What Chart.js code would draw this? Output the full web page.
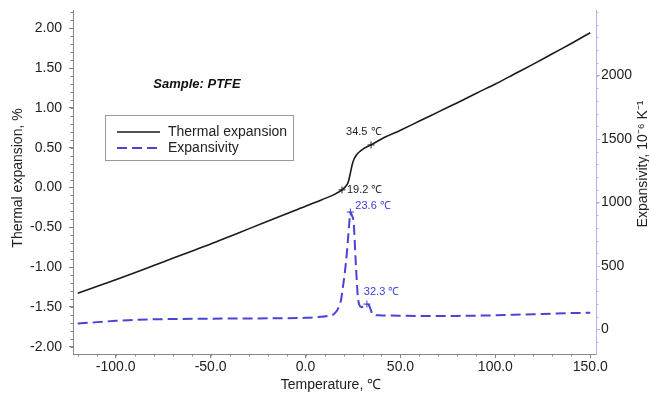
<!DOCTYPE html>
<html><head><meta charset="utf-8">
<script src="https://cdn.jsdelivr.net/npm/chart.js@4/dist/chart.umd.min.js"></script>
<style>html,body{margin:0;padding:0;background:#fff;overflow:hidden}#wrap{width:649px;height:393px}</style>
</head><body><div id="wrap"><canvas id="c" width="649" height="393"></canvas></div>
<script>
// ---- data ----
const tempThermal = [-120,-110,-100,-90,-80,-70,-60,-50,-40,-30,-20,-10,0,5,10,15,19.2,21,22.5,23.5,24.5,25.5,27,29,31,34.5,40,50,60,70,80,90,100,110,120,130,140,150];
const thermalExpansion = [-1.33,-1.245,-1.158,-1.07,-0.98,-0.89,-0.80,-0.71,-0.615,-0.52,-0.425,-0.33,-0.235,-0.19,-0.14,-0.09,-0.03,0.01,0.07,0.17,0.28,0.355,0.415,0.46,0.495,0.535,0.61,0.72,0.835,0.95,1.065,1.185,1.30,1.425,1.55,1.68,1.81,1.945];
const tempExpansivity = [-120,-110,-100,-90,-80,-60,-40,-20,0,8,12,15,17,18.6,20,21.2,22.2,23,23.6,24.4,25.4,26.3,27,27.5,28.3,29.3,30.5,32.3,33.5,34.2,35,35.9,37,40,50,60,70,80,90,100,110,120,130,140,150];
const expansivity = [48,58,68,76,80,84,86,88,92,100,108,122,160,226,370,516,680,833,925,900,833,568,380,265,195,178,180,200,188,160,128,114,112,111,108,106,106,107,109,112,116,120,125,129,132];
const xTickValues = [-100,-50,0,50,100,150];
const yLeftTickValues = [-2,-1.5,-1,-0.5,0,0.5,1,1.5,2];
const yRightTickValues = [0,500,1000,1500,2000];
const annotTemps = [34.5,19.2,23.6,32.3];
const annotValues = [0.535,-0.03,925,200];
const annotSeries = [0,0,1,1];
const seriesNames = ['Thermal expansion','Expansivity'];
const sampleName = 'Sample: PTFE';

const FONT = "'Liberation Sans', Arial, sans-serif";
const BLUE = '#4a44d6';
const toXY = (xs, ys) => xs.map((x,i)=>({x, y: ys[i]}));

const overlay = {
  id:'overlay',
  afterDraw(chart){
    const ctx = chart.ctx, ca = chart.chartArea;
    const sx = chart.scales.x, sl = chart.scales.y, sr = chart.scales.y2;
    ctx.save();
    // minor ticks
    const ln = (a,b,c,d,col)=>{ctx.strokeStyle=col;ctx.lineWidth=1;ctx.beginPath();ctx.moveTo(a,b);ctx.lineTo(c,d);ctx.stroke();};
    for (let v=-120; v<=150; v+=10){ const p=Math.round(sx.getPixelForValue(v))+0.5; ln(p,ca.bottom,p,ca.bottom+2.5,'#888'); }
    for (let k=-20; k<=22; k++){ const p=Math.round(sl.getPixelForValue(k/10))+0.5; ln(ca.left-2.5,p,ca.left,p,'#888'); }
    for (let v=-100; v<=2500; v+=100){ const p=Math.round(sr.getPixelForValue(v))+0.5; ln(ca.right,p,ca.right+2.5,p,'#b4b4ea'); }

    // axis titles
    ctx.fillStyle = '#222';
    ctx.font = '14px ' + FONT;
    ctx.textAlign = 'center'; ctx.textBaseline = 'middle';
    ctx.fillText('Temperature, \u2103', ca.left + 258, 385);
    ctx.save(); ctx.translate(18, ca.top + 168); ctx.rotate(-Math.PI/2);
    ctx.fillText('Thermal expansion, %', 0, 0); ctx.restore();
    ctx.save(); ctx.translate(643, ca.top + 154); ctx.rotate(-Math.PI/2);
    ctx.fillText('Expansivity, 10\u207B\u2076 K\u207B\u00B9', 0, 0); ctx.restore();

    // sample label
    ctx.font = 'italic bold 13px ' + FONT;
    ctx.fillStyle = '#111';
    ctx.fillText(sampleName, ca.left + 124, ca.top + 74);

    // legend
    const lx = ca.left + 32, ly = ca.top + 105;
    ctx.strokeStyle = '#999'; ctx.lineWidth = 1;
    ctx.strokeRect(lx+0.5, ly+0.5, 188, 45);
    ctx.font = '14px ' + FONT; ctx.textAlign='left'; ctx.fillStyle='#222';
    chart.data.datasets.slice(0,2).forEach((ds,i)=>{
      const yy = ly + 17 + i*16;
      ctx.strokeStyle = ds.borderColor; ctx.lineWidth = ds.borderWidth;
      ctx.setLineDash(ds.borderDash || []);
      ctx.beginPath(); ctx.moveTo(lx+12, yy); ctx.lineTo(lx+55, yy); ctx.stroke();
      ctx.setLineDash([]);
      ctx.fillStyle = '#222';
      ctx.fillText(ds.label, lx+63, yy);
    });

    // annotations
    ctx.font = '11px ' + FONT;
    const offs = [[-25,-13],[5,0],[5,-6],[-3,-12]];
    annotTemps.forEach((t,i)=>{
      const sc = annotSeries[i] ? sr : sl;
      const px = sx.getPixelForValue(t), py = sc.getPixelForValue(annotValues[i]);
      ctx.fillStyle = annotSeries[i] ? '#3a3ae0' : '#222';
      ctx.fillText(t.toFixed(1) + ' \u2103', px + offs[i][0], py + offs[i][1]);
    });
    ctx.restore();
  }
};

const fixTicks = vals => scale => { scale.ticks = vals.map(v=>({value:v})); };

new Chart(document.getElementById('c'), {
  type:'line',
  data:{ datasets:[
    { label: seriesNames[0], data: toXY(tempThermal, thermalExpansion), yAxisID:'y', borderColor:'#1a1a1a', borderWidth:1.6, pointRadius:0, cubicInterpolationMode:'monotone', fill:false },
    { label: seriesNames[1], data: toXY(tempExpansivity, expansivity), yAxisID:'y2', borderColor:BLUE, borderWidth:2, borderDash:[10,5], pointRadius:0, cubicInterpolationMode:'monotone', fill:false },
    { label:'marks0', data: annotTemps.map((t,i)=>({x:t,y:annotValues[i]})).filter((p,i)=>annotSeries[i]===0), yAxisID:'y', showLine:false, pointStyle:'cross', pointRadius:3.5, borderColor:'#222', borderWidth:1 },
    { label:'marks1', data: annotTemps.map((t,i)=>({x:t,y:annotValues[i]})).filter((p,i)=>annotSeries[i]===1), yAxisID:'y2', showLine:false, pointStyle:'cross', pointRadius:3.5, borderColor:'#3a3ae0', borderWidth:1 }
  ]},
  options:{
    responsive:false, animation:false, devicePixelRatio:1,
    layout:{ padding:{ top:10, left:0, right:0, bottom:0 } },
    plugins:{ legend:{display:false}, tooltip:{enabled:false} },
    scales:{
      x:{ type:'linear', position:'bottom', min:-122.5, max:153,
          afterBuildTicks: fixTicks(xTickValues),
          afterFit: s=>{ s.height = 39; s.paddingLeft = 0; s.paddingRight = 0; },
          grid:{ drawOnChartArea:false, tickLength:4, color:'#888' },
          border:{ color:'#888' },
          ticks:{ autoSkip:false, maxRotation:0, padding:1, color:'#222', font:{family:FONT,size:14}, callback:v=>v.toFixed(1) } },
      y:{ type:'linear', position:'left', min:-2.092, max:2.23,
          afterBuildTicks: fixTicks(yLeftTickValues),
          afterFit: s=>{ s.width = 73; s.paddingTop = 0; s.paddingBottom = 0; },
          grid:{ drawOnChartArea:false, tickLength:4, color:'#888' },
          border:{ color:'#888' },
          ticks:{ padding:7, color:'#222', font:{family:FONT,size:14}, callback:v=>v.toFixed(2) } },
      y2:{ type:'linear', position:'right', min:-193, max:2516,
          afterBuildTicks: fixTicks(yRightTickValues),
          afterFit: s=>{ s.width = 53; s.paddingTop = 0; s.paddingBottom = 0; },
          grid:{ drawOnChartArea:false, tickLength:4, color:'#b4b4ea' },
          border:{ color:'#b4b4ea' },
          ticks:{ padding:1, color:'#222', font:{family:FONT,size:14}, callback:v=>String(v) } }
    }
  },
  plugins:[overlay]
});
</script></body></html>
